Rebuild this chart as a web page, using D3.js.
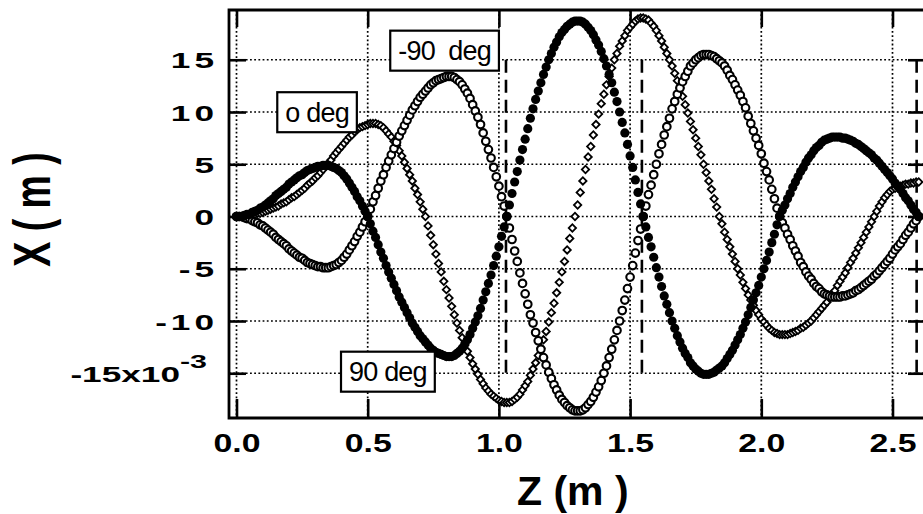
<!DOCTYPE html>
<html><head><meta charset="utf-8">
<script src="https://cdn.jsdelivr.net/npm/d3@7"></script>
<style>
html,body{margin:0;padding:0;background:#fff;}
svg{display:block;}
text{font-family:"Liberation Sans", Arial, Helvetica, sans-serif;}
</style></head><body>
<svg id="chart" width="923" height="514"></svg>
<script>
// ---- data (Z sampled every 0.01 m from 0.00 to 2.60) ----
const zStart = 0, zStep = 0.01;
const x0deg = [
 0, 0, 0, 0, 0.1, 0.1, 0.1, 0.2, 0.3, 0.3,
 0.4, 0.5, 0.6, 0.7, 0.8, 0.9, 1.0, 1.2, 1.3, 1.4,
 1.6, 1.8, 1.9, 2.1, 2.3, 2.5, 2.7, 3.0, 3.2, 3.4,
 3.7, 3.9, 4.2, 4.5, 4.8, 5.1, 5.4, 5.8, 6.1, 6.4,
 6.7, 7.0, 7.3, 7.6, 7.8, 8.1, 8.3, 8.5, 8.6, 8.7,
 8.8, 8.9, 8.9, 8.9, 8.8, 8.7, 8.5, 8.2, 7.9, 7.6,
 7.2, 6.8, 6.3, 5.8, 5.2, 4.6, 4.0, 3.4, 2.7, 2.1,
 1.4, 0.7, 0, -0.9, -1.8, -2.7, -3.6, -4.5, -5.3, -6.2,
 -7.0, -7.8, -8.6, -9.4, -10.2, -10.9, -11.6, -12.3, -12.9, -13.5,
 -14.1, -14.6, -15.1, -15.6, -16.0, -16.4, -16.7, -17.0, -17.2, -17.4,
 -17.6, -17.7, -17.8, -17.8, -17.8, -17.7, -17.5, -17.3, -17.0, -16.6,
 -16.2, -15.8, -15.2, -14.6, -14.0, -13.3, -12.6, -11.8, -11.0, -10.1,
 -9.2, -8.3, -7.3, -6.3, -5.3, -4.3, -3.2, -2.1, -1.1, 0,
 1.1, 2.3, 3.4, 4.5, 5.7, 6.7, 7.8, 8.8, 9.8, 10.8,
 11.7, 12.6, 13.4, 14.2, 15.0, 15.6, 16.3, 16.8, 17.3, 17.8,
 18.1, 18.4, 18.7, 18.9, 19.0, 19.0, 18.9, 18.8, 18.5, 18.2,
 17.8, 17.3, 16.8, 16.2, 15.6, 15.0, 14.4, 13.7, 13.0, 12.3,
 11.5, 10.7, 9.9, 9.1, 8.3, 7.5, 6.7, 5.9, 5.0, 4.2,
 3.4, 2.6, 1.7, 0.9, 0, -0.7, -1.5, -2.2, -2.9, -3.6,
 -4.3, -5.0, -5.6, -6.3, -6.9, -7.5, -8.0, -8.5, -9.0, -9.4,
 -9.8, -10.1, -10.4, -10.7, -10.9, -11.1, -11.2, -11.3, -11.3, -11.3,
 -11.3, -11.2, -11.1, -11.0, -10.9, -10.7, -10.6, -10.4, -10.2, -10.0,
 -9.7, -9.4, -9.1, -8.8, -8.5, -8.2, -7.8, -7.4, -7.1, -6.6,
 -6.2, -5.8, -5.4, -4.9, -4.4, -4.0, -3.5, -3.0, -2.5, -2.0,
 -1.5, -1.0, -0.5, 0, 0.5, 1.0, 1.4, 1.8, 2.1, 2.4,
 2.6, 2.7, 2.8, 2.9, 3.0, 3.1, 3.1, 3.2, 3.2, 3.3,
 3.3
];
const xPlus90 = [
 0, 0, 0, 0.1, 0.2, 0.2, 0.4, 0.5, 0.6, 0.8,
 0.9, 1.1, 1.3, 1.5, 1.7, 2.0, 2.2, 2.4, 2.6, 2.8,
 3.1, 3.3, 3.5, 3.7, 3.9, 4.0, 4.2, 4.4, 4.5, 4.6,
 4.7, 4.8, 4.8, 4.9, 4.9, 4.9, 4.8, 4.7, 4.6, 4.4,
 4.2, 3.9, 3.6, 3.2, 2.8, 2.4, 1.9, 1.5, 1.0, 0.5,
 0, -0.7, -1.4, -2.0, -2.7, -3.4, -4.0, -4.7, -5.3, -5.9,
 -6.5, -7.1, -7.7, -8.2, -8.7, -9.2, -9.7, -10.2, -10.6, -11.0,
 -11.4, -11.7, -12.0, -12.3, -12.6, -12.8, -13.0, -13.1, -13.2, -13.3,
 -13.4, -13.4, -13.4, -13.3, -13.1, -12.9, -12.6, -12.2, -11.8, -11.3,
 -10.7, -10.1, -9.5, -8.8, -8.0, -7.2, -6.4, -5.6, -4.7, -3.8,
 -2.9, -1.9, -1.0, 0, 1.1, 2.2, 3.3, 4.3, 5.4, 6.4,
 7.4, 8.4, 9.4, 10.3, 11.2, 12.0, 12.8, 13.6, 14.3, 15.0,
 15.6, 16.2, 16.7, 17.2, 17.6, 17.9, 18.2, 18.4, 18.6, 18.7,
 18.7, 18.7, 18.6, 18.4, 18.1, 17.8, 17.4, 16.9, 16.4, 15.8,
 15.1, 14.4, 13.6, 12.8, 11.9, 11.0, 10.0, 9.0, 8.0, 6.9,
 5.8, 4.7, 3.5, 2.3, 1.2, 0, -1.0, -2.0, -2.9, -3.9,
 -4.9, -5.8, -6.7, -7.6, -8.4, -9.2, -10.0, -10.7, -11.4, -12.0,
 -12.6, -13.1, -13.5, -14.0, -14.3, -14.6, -14.8, -15.0, -15.1, -15.1,
 -15.1, -15.0, -14.9, -14.7, -14.5, -14.3, -14.0, -13.6, -13.2, -12.8,
 -12.3, -11.8, -11.3, -10.7, -10.1, -9.4, -8.7, -8.0, -7.3, -6.6,
 -5.8, -5.0, -4.2, -3.4, -2.5, -1.7, -0.8, 0, 0.6, 1.1,
 1.7, 2.2, 2.8, 3.3, 3.8, 4.3, 4.7, 5.2, 5.6, 5.9,
 6.3, 6.6, 6.8, 7.1, 7.3, 7.4, 7.5, 7.6, 7.6, 7.6,
 7.6, 7.5, 7.5, 7.4, 7.3, 7.2, 7.0, 6.9, 6.7, 6.5,
 6.3, 6.1, 5.9, 5.6, 5.4, 5.1, 4.8, 4.5, 4.2, 3.9,
 3.6, 3.2, 2.9, 2.6, 2.2, 1.8, 1.5, 1.1, 0.7, 0.4,
 0
];
const xMinus90 = [
 0, 0, 0, -0.1, -0.2, -0.2, -0.4, -0.5, -0.6, -0.8,
 -0.9, -1.1, -1.3, -1.5, -1.7, -2.0, -2.2, -2.4, -2.6, -2.8,
 -3.1, -3.3, -3.5, -3.7, -3.9, -4.0, -4.2, -4.4, -4.5, -4.6,
 -4.7, -4.8, -4.8, -4.9, -4.9, -4.9, -4.8, -4.7, -4.6, -4.4,
 -4.2, -3.9, -3.6, -3.2, -2.8, -2.4, -1.9, -1.5, -1.0, -0.5,
 0, 0.7, 1.4, 2.0, 2.7, 3.4, 4.0, 4.7, 5.3, 5.9,
 6.5, 7.1, 7.7, 8.2, 8.7, 9.2, 9.7, 10.2, 10.6, 11.0,
 11.4, 11.7, 12.0, 12.3, 12.6, 12.8, 13.0, 13.1, 13.2, 13.3,
 13.4, 13.4, 13.4, 13.3, 13.1, 12.9, 12.6, 12.2, 11.8, 11.3,
 10.7, 10.1, 9.5, 8.8, 8.0, 7.2, 6.4, 5.6, 4.7, 3.8,
 2.9, 1.9, 1.0, 0, -1.1, -2.2, -3.3, -4.3, -5.4, -6.4,
 -7.4, -8.4, -9.4, -10.2, -11.1, -11.9, -12.7, -13.5, -14.2, -14.9,
 -15.5, -16.1, -16.6, -17.1, -17.5, -17.8, -18.1, -18.3, -18.5, -18.6,
 -18.6, -18.6, -18.5, -18.3, -18.0, -17.7, -17.3, -16.8, -16.3, -15.7,
 -15.0, -14.3, -13.5, -12.7, -11.8, -10.9, -10.0, -9.0, -8.0, -6.9,
 -5.8, -4.7, -3.5, -2.3, -1.2, 0, 1.0, 2.1, 3.0, 4.0,
 5.0, 6.0, 6.9, 7.8, 8.6, 9.4, 10.3, 11.0, 11.7, 12.3,
 12.9, 13.4, 13.9, 14.4, 14.7, 15.0, 15.2, 15.4, 15.5, 15.5,
 15.5, 15.4, 15.3, 15.1, 14.9, 14.7, 14.4, 14.0, 13.5, 13.1,
 12.6, 12.1, 11.6, 11.0, 10.4, 9.6, 8.9, 8.2, 7.5, 6.8,
 6.0, 5.1, 4.3, 3.5, 2.6, 1.7, 0.8, 0, -0.6, -1.1,
 -1.7, -2.2, -2.8, -3.3, -3.8, -4.4, -4.8, -5.3, -5.7, -6.0,
 -6.4, -6.7, -6.9, -7.2, -7.4, -7.5, -7.6, -7.7, -7.7, -7.7,
 -7.7, -7.6, -7.6, -7.5, -7.4, -7.3, -7.1, -7.0, -6.8, -6.6,
 -6.4, -6.2, -6.0, -5.7, -5.5, -5.2, -4.9, -4.6, -4.3, -4.0,
 -3.6, -3.2, -2.9, -2.6, -2.2, -1.8, -1.5, -1.1, -0.7, -0.4,
 0
];
const zTicks = [0, 0.5, 1.0, 1.5, 2.0, 2.5];
const zTickLabels = ["0.0", "0.5", "1.0", "1.5", "2.0", "2.5"];
const xTicks = [15, 10, 5, 0, -5, -10, -15];
const xTickLabels = ["15", "10", "5", "0", "-5", "-10", "-15x10"];
const xTickExponent = "-3";
const dashedZ = [1.027, 1.545, 2.592];
const labelText = ["o deg", "-90  deg", "90 deg"];
const labelZ = [0.307, 0.793, 0.577];
const labelX = [9.98, 15.87, -14.85];

// ---- layout ----
const svg = d3.select("#chart");
const frame = {left: 229, right: 925, top: 10, bottom: 418};
const x = d3.scaleLinear().domain([0, 2.5]).range([236.5, 892.5]);
const y = d3.scaleLinear().domain([-15, 15]).range([373.25, 59.75]);
const FONT = '"Liberation Sans", Arial, Helvetica, sans-serif';

// gridlines (dotted)
const grid = svg.append("g").attr("stroke", "#000").attr("stroke-width", 1.7).attr("stroke-dasharray", "1.8,2.4");
grid.selectAll("line.v").data(zTicks).join("line").attr("class", "v")
  .attr("x1", d => x(d)).attr("x2", d => x(d)).attr("y1", frame.top).attr("y2", frame.bottom);
grid.selectAll("line.h").data(xTicks).join("line").attr("class", "h")
  .attr("x1", frame.left).attr("x2", frame.right).attr("y1", d => y(d)).attr("y2", d => y(d));

// dashed vertical markers
svg.append("g").selectAll("line").data(dashedZ).join("line")
  .attr("x1", d => x(d)).attr("x2", d => x(d)).attr("y1", y(15)).attr("y2", y(-15))
  .attr("stroke", "#000").attr("stroke-width", 2.6).attr("stroke-dasharray", "13,7");

// frame
svg.append("path")
  .attr("d", `M${frame.right},${frame.top}H${frame.left}V${frame.bottom}H${frame.right}`)
  .attr("fill", "none").attr("stroke", "#000").attr("stroke-width", 2.8);

// bottom axis (ticks inward) + labels
const gx = svg.append("g").attr("transform", `translate(0,${frame.bottom})`)
  .call(d3.axisBottom(x).tickValues(zTicks).tickSize(-19).tickFormat(""));
gx.select(".domain").remove();
gx.selectAll(".tick line").attr("stroke", "#000").attr("stroke-width", 2.6);
gx.selectAll(".tick text").remove();
gx.selectAll(".tick").append("text")
  .attr("transform", "translate(0,34) scale(1.3,1)")
  .attr("text-anchor", "middle").attr("fill", "#000")
  .style("font-family", FONT).style("font-size", "26px").style("font-weight", "bold")
  .text((d, i) => zTickLabels[i]);

// top ticks
const gt = svg.append("g").attr("transform", `translate(0,${frame.top})`)
  .call(d3.axisTop(x).tickValues(zTicks).tickSize(-17).tickFormat(""));
gt.select(".domain").remove();
gt.selectAll(".tick line").attr("stroke", "#000").attr("stroke-width", 2.6);

// left axis (ticks inward) + labels
const gy = svg.append("g").attr("transform", `translate(${frame.left},0)`)
  .call(d3.axisLeft(y).tickValues(xTicks).tickSize(-17).tickFormat(""));
gy.select(".domain").remove();
gy.selectAll(".tick line").attr("stroke", "#000").attr("stroke-width", 2.6);
gy.selectAll(".tick text").remove();
const last = xTicks.length - 1;
const yl = gy.selectAll(".tick").append("text")
  .attr("transform", (d, i) => i === last ? "translate(-22,8) scale(1.6,1)" : "translate(-11,8) scale(1.6,1)")
  .attr("text-anchor", "end").attr("fill", "#000")
  .style("font-family", FONT).style("font-size", "22px").style("font-weight", "bold")
  .style("letter-spacing", (d, i) => i === last ? "0px" : "2.5px")
  .text((d, i) => xTickLabels[i]);
yl.filter((d, i) => i === last).append("tspan").attr("dy", -14)
  .style("font-size", "19px").text(xTickExponent);

// right ticks
const gr = svg.append("g").attr("transform", `translate(${frame.right},0)`)
  .call(d3.axisRight(y).tickValues(xTicks).tickSize(-17).tickFormat(""));
gr.select(".domain").remove();
gr.selectAll(".tick line").attr("stroke", "#000").attr("stroke-width", 2.6);

// ---- series ----
const toPts = arr => arr.map((v, i) => ({z: zStart + i * zStep, v}));

svg.append("g").selectAll("path").data(toPts(x0deg)).join("path")
  .attr("d", d3.symbol(d3.symbolSquare, 27))
  .attr("transform", d => `translate(${x(d.z)},${y(d.v)}) rotate(45)`)
  .attr("fill", "#fff").attr("stroke", "#000").attr("stroke-width", 1.8);

svg.append("g").selectAll("circle").data(toPts(xMinus90)).join("circle")
  .attr("cx", d => x(d.z)).attr("cy", d => y(d.v)).attr("r", 3.8)
  .attr("fill", "#fff").attr("stroke", "#000").attr("stroke-width", 2.1);

svg.append("g").selectAll("circle").data(toPts(xPlus90)).join("circle")
  .attr("cx", d => x(d.z)).attr("cy", d => y(d.v)).attr("r", 4.6)
  .attr("fill", "#000");

// ---- annotation boxes ----
labelText.forEach((t, i) => {
  const g = svg.append("g").attr("transform", `translate(${x(labelZ[i])},${y(labelX[i])})`);
  const rect = g.append("rect");
  const txt = g.append("text").text(t).attr("text-anchor", "middle").attr("dy", "0.36em")
    .style("font-size", "27px").style("letter-spacing", "-0.8px").style("white-space", "pre");
  const bb = txt.node().getBBox();
  rect.attr("x", bb.x - 8).attr("y", -20).attr("width", bb.width + 16).attr("height", 40)
    .attr("fill", "#fff").attr("stroke", "#000").attr("stroke-width", 2.2);
});

// ---- axis titles ----
svg.append("text").attr("x", 517).attr("y", 505).text("Z (m )")
  .style("font-size", "41px").style("font-weight", "bold").style("white-space", "pre");
svg.append("text").attr("transform", "translate(50,209.5) rotate(-90) scale(0.72,1)")
  .attr("text-anchor", "middle").text("X ( m )")
  .style("font-size", "52px").style("font-weight", "bold").style("white-space", "pre");
</script>
</body></html>
